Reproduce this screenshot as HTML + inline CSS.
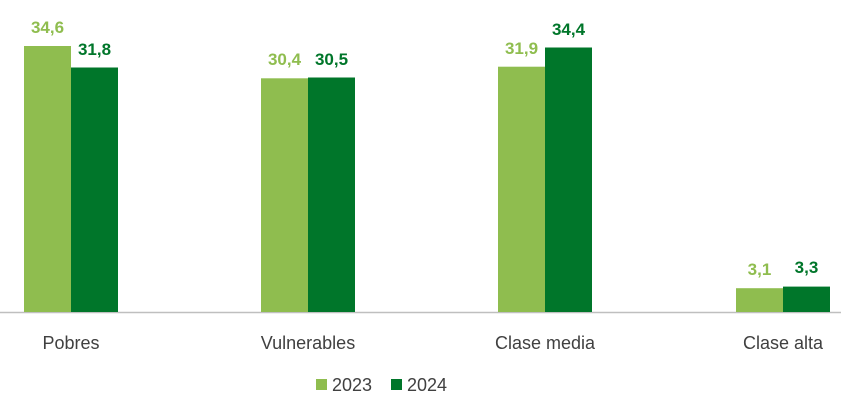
<!DOCTYPE html>
<html><head><style>
body{margin:0;background:#fff;}
svg text{font-family:"Liberation Sans",sans-serif;}
</style></head><body>
<svg width="841" height="402" xmlns="http://www.w3.org/2000/svg">
<line x1="0" y1="312.5" x2="841" y2="312.5" stroke="#bfbfbf" stroke-width="1.5"/>
<g fill="#8fbd4f">
<rect x="24" y="46" width="47" height="266"/>
<rect x="261" y="78.3" width="47" height="233.7"/>
<rect x="498" y="66.7" width="47" height="245.3"/>
<rect x="736" y="288.2" width="47" height="23.8"/>
</g>
<g fill="#00762a">
<rect x="71" y="67.5" width="47" height="244.5"/>
<rect x="308" y="77.5" width="47" height="234.5"/>
<rect x="545" y="47.5" width="47" height="264.5"/>
<rect x="783" y="286.6" width="47" height="25.4"/>
</g>
<g font-size="17" font-weight="bold" text-anchor="middle">
<text x="47.5" y="33" fill="#8fbd4f">34,6</text>
<text x="94.5" y="55" fill="#00762a">31,8</text>
<text x="284.5" y="65" fill="#8fbd4f">30,4</text>
<text x="331.5" y="65" fill="#00762a">30,5</text>
<text x="521.5" y="54" fill="#8fbd4f">31,9</text>
<text x="568.5" y="35" fill="#00762a">34,4</text>
<text x="759.5" y="275" fill="#8fbd4f">3,1</text>
<text x="806.5" y="273" fill="#00762a">3,3</text>
</g>
<g font-size="18" fill="#404040" text-anchor="middle">
<text x="71" y="349">Pobres</text>
<text x="308" y="349">Vulnerables</text>
<text x="545" y="349">Clase media</text>
<text x="783" y="349">Clase alta</text>
</g>
<rect x="316" y="379" width="11" height="11" fill="#8fbd4f"/>
<text x="332" y="391" font-size="18" fill="#404040">2023</text>
<rect x="391" y="379" width="11" height="11" fill="#00762a"/>
<text x="407" y="391" font-size="18" fill="#404040">2024</text>
</svg>
</body></html>
